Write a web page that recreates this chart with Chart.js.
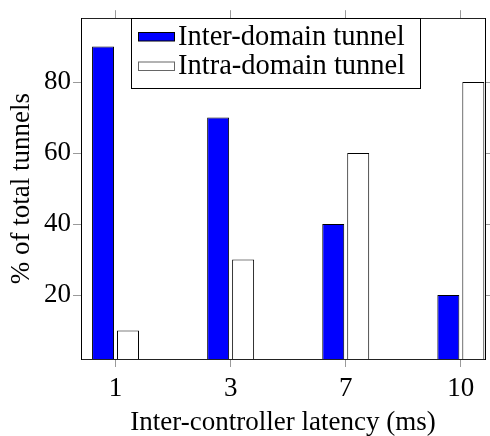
<!DOCTYPE html>
<html>
<head>
<meta charset="utf-8">
<script src="https://cdn.jsdelivr.net/npm/chart.js@4"></script>
<style>
  html, body { margin: 0; padding: 0; background: #fff; }
  #wrap { width: 490px; height: 436px; }
</style>
</head>
<body>
<div id="wrap"><canvas id="myChart"></canvas></div>
<script>
const categories = ["1", "3", "7", "10"];
const interDomain = [90, 70, 40, 20];
const intraDomain = [10, 30, 60, 80];
const yTicks = [20, 40, 60, 80];

const FONT = "'Liberation Serif', serif";
const TICK_GRAY = "#9a9a9a";

// legend drawn inside the plot, pgfplots style
const boxLegend = {
  id: "boxLegend",
  afterDraw(chart) {
    const ctx = chart.ctx;
    ctx.save();
    ctx.fillStyle = "#fff";
    ctx.fillRect(131.5, 18.5, 289, 70);
    ctx.strokeStyle = "#000";
    ctx.lineWidth = 1;
    ctx.strokeRect(131.5, 18.5, 289, 70);
    ctx.font = "28.5px " + FONT;
    ctx.textBaseline = "alphabetic";
    const rows = [44.5, 74];
    chart.data.datasets.forEach((ds, i) => {
      const y = rows[i];
      ctx.fillStyle = ds.backgroundColor;
      ctx.fillRect(138.5, y - 12, 36, 8.5);
      ctx.strokeStyle = ds.legendBorder;
      ctx.strokeRect(138.5, y - 12, 36, 8.5);
      ctx.fillStyle = "#000";
      ctx.fillText(ds.label, 178, y);
    });
    ctx.restore();
  },
};

const xCommon = {
  type: "linear",
  min: -0.3,
  max: 3.21,
  offset: false,
  afterBuildTicks: (s) => {
    s.ticks = categories.map((_, i) => ({ value: i }));
  },
  grid: { offset: false, drawOnChartArea: false, tickLength: 8, color: TICK_GRAY },
  border: { color: "#222", width: 1 },
};

const yCommon = {
  type: "linear",
  min: 2,
  max: 98,
  afterBuildTicks: (s) => {
    s.ticks = yTicks.map((v) => ({ value: v }));
  },
  grid: { drawOnChartArea: false, tickLength: 8, color: TICK_GRAY },
  border: { color: "#000", width: 1 },
};

new Chart(document.getElementById("myChart"), {
  type: "bar",
  data: {
    datasets: [
      {
        label: "Inter-domain tunnel",
        data: interDomain.map((v, i) => ({ x: i, y: v })),
        backgroundColor: "#0000ff",
        borderColor: "#000",
        legendBorder: "#000",
        borderWidth: 1,
      },
      {
        label: "Intra-domain tunnel",
        data: intraDomain.map((v, i) => ({ x: i, y: v })),
        backgroundColor: "#fff",
        borderColor: "#000",
        legendBorder: "#666",
        borderWidth: 1,
      },
    ],
  },
  options: {
    responsive: true,
    maintainAspectRatio: false,
    animation: false,
    layout: { padding: 0 },
    categoryPercentage: 0.434,
    barPercentage: 0.88,
    scales: {
      x: {
        ...xCommon,
        position: "bottom",
        afterFit: (s) => { s.height = 77; },
        ticks: {
          color: "#000",
          padding: 6,
          font: { size: 27, family: FONT },
          callback: (v) => categories[v],
        },
        title: {
          display: true,
          text: "Inter-controller latency (ms)",
          color: "#000",
          font: { size: 27, family: FONT, lineHeight: 1 },
          padding: { top: 0, bottom: 0 },
        },
      },
      x2: {
        ...xCommon,
        position: "top",
        afterFit: (s) => { s.height = 15; },
        ticks: { display: false },
      },
      y: {
        ...yCommon,
        position: "left",
        afterFit: (s) => { s.width = 81; },
        ticks: {
          color: "#000",
          padding: 2,
          font: { size: 27, family: FONT },
        },
        title: {
          display: true,
          text: "% of total tunnels",
          color: "#000",
          font: { size: 27, family: FONT, lineHeight: 1 },
          padding: { top: 8, bottom: 0 },
        },
      },
      y2: {
        ...yCommon,
        position: "right",
        afterFit: (s) => { s.width = 5; },
        ticks: { display: false },
      },
    },
    plugins: {
      legend: { display: false },
      tooltip: { enabled: false },
    },
  },
  plugins: [boxLegend],
});
</script>
</body>
</html>
